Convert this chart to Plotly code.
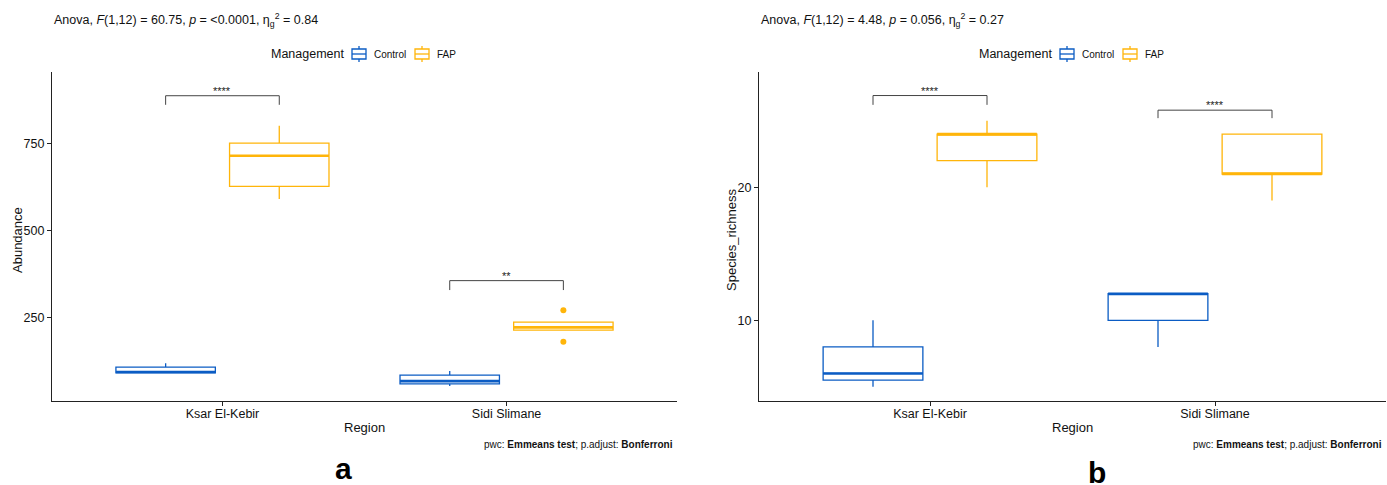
import plotly.graph_objects as go

W, H = 1387, 485

# ---------------- data ----------------
regions = ["Ksar El-Kebir", "Sidi Slimane"]
groups = ["Control", "FAP"]

# Abundance (panel a) box statistics per region
ab_control_q1 = [92, 60]
ab_control_med = [94, 68]
ab_control_q3 = [108, 85]
ab_control_lo = [91, 54]
ab_control_hi = [119, 97]

ab_fap_q1 = [626, 214]
ab_fap_med = [714, 222]
ab_fap_q3 = [750, 237]
ab_fap_lo = [590, 214]
ab_fap_hi = [800, 237]

ab_fap_outliers_sidi = [271, 181]

# Species richness (panel b)
sr_control_q1 = [5.5, 10]
sr_control_med = [6, 12]
sr_control_q3 = [8, 12]
sr_control_lo = [5, 8]
sr_control_hi = [10, 12]

sr_fap_q1 = [22, 21]
sr_fap_med = [24, 21]
sr_fap_q3 = [24, 24]
sr_fap_lo = [20, 19]
sr_fap_hi = [25, 24]

# pairwise comparison brackets (y of bar, y of tips, label)
ab_bracket_y = [886, 356]
ab_bracket_tip = [860, 329]
ab_bracket_lab = ["****", "**"]

sr_bracket_y = [26.9, 25.8]
sr_bracket_tip = [26.2, 25.2]
sr_bracket_lab = ["****", "****"]

titles = [
    "Anova, <i>F</i>(1,12) = 60.75, <i>p</i> = &lt;0.0001, η<sub>g</sub><sup>2</sup> = 0.84",
    "Anova, <i>F</i>(1,12) = 4.48, <i>p</i> = 0.056, η<sub>g</sub><sup>2</sup> = 0.27",
]
caption = "pwc: <b>Emmeans test</b>; p.adjust: <b>Bonferroni</b>"
ylabels = ["Abundance", "Species_richness"]
legend_title = "Management"
panel_letters = ["a", "b"]

# ---------------- style ----------------
COL = {"Control": "#0B5CC4", "FAP": "#FFB50A"}
FONT = "Liberation Sans, Arial, sans-serif"
DODGE = 0.2
BOXW = 0.35


def px_x(px):
    return px / W


def px_y(py):
    return 1 - py / H


fig = go.Figure()

panels = [
    dict(xa="x", ya="y",
         stats={"Control": (ab_control_q1, ab_control_med, ab_control_q3, ab_control_lo, ab_control_hi),
                "FAP": (ab_fap_q1, ab_fap_med, ab_fap_q3, ab_fap_lo, ab_fap_hi)},
         by=ab_bracket_y, bt=ab_bracket_tip, bl=ab_bracket_lab),
    dict(xa="x2", ya="y2",
         stats={"Control": (sr_control_q1, sr_control_med, sr_control_q3, sr_control_lo, sr_control_hi),
                "FAP": (sr_fap_q1, sr_fap_med, sr_fap_q3, sr_fap_lo, sr_fap_hi)},
         by=sr_bracket_y, bt=sr_bracket_tip, bl=sr_bracket_lab),
]

cat_pos = [i + 1 for i in range(len(regions))]

annotations = []
shapes = []
for p in panels:
    for gi, g in enumerate(groups):
        off = -DODGE if g == "Control" else DODGE
        xs = [c + off for c in cat_pos]
        q1, med, q3, lo, hi = p["stats"][g]
        fig.add_trace(go.Box(
            x=xs, q1=q1, median=med, q3=q3, lowerfence=lo, upperfence=hi,
            width=BOXW, whiskerwidth=0, boxpoints=False,
            line=dict(color=COL[g], width=1.3), fillcolor="rgba(255,255,255,0)",
            name=g, showlegend=False, xaxis=p["xa"], yaxis=p["ya"], hoverinfo="skip",
        ))
        # thicker median line (ggplot fatten)
        mx, my = [], []
        for x, m in zip(xs, med):
            mx += [x - BOXW / 2, x + BOXW / 2, None]
            my += [m, m, None]
        fig.add_trace(go.Scatter(x=mx, y=my, mode="lines", line=dict(color=COL[g], width=2.6),
                                 showlegend=False, xaxis=p["xa"], yaxis=p["ya"], hoverinfo="skip"))
    # brackets
    for c, yb, yt, lab in zip(cat_pos, p["by"], p["bt"], p["bl"]):
        fig.add_trace(go.Scatter(x=[c - DODGE, c - DODGE, c + DODGE, c + DODGE], y=[yt, yb, yb, yt],
                                 mode="lines", line=dict(color="#444444", width=1),
                                 showlegend=False, xaxis=p["xa"], yaxis=p["ya"], hoverinfo="skip"))
        annotations.append(dict(x=c, y=yb, xref=p["xa"], yref=p["ya"], text=lab, showarrow=False,
                                yanchor="bottom", yshift=-3, font=dict(size=11, color="#222", family=FONT)))

# outliers for FAP, Sidi Slimane (abundance)
fig.add_trace(go.Scatter(x=[cat_pos[1] + DODGE] * len(ab_fap_outliers_sidi), y=ab_fap_outliers_sidi,
                         mode="markers", marker=dict(color=COL["FAP"], size=6),
                         showlegend=False, xaxis="x", yaxis="y", hoverinfo="skip"))

# panel geometry in px
pa = dict(x0=52, x1=677, leg=271)
pb = dict(x0=759, x1=1386, leg=979)
ytop, ybot = 72, 401

axis_common = dict(showgrid=False, zeroline=False, showline=True, linecolor="#222", linewidth=1.2,
                   ticks="outside", ticklen=4, tickcolor="#222", tickwidth=1,
                   tickfont=dict(size=12.5, color="#111", family=FONT))

fig.update_layout(
    width=W, height=H, margin=dict(l=0, r=0, t=0, b=0),
    paper_bgcolor="white", plot_bgcolor="white",
    font=dict(family=FONT, color="#111"),
    xaxis=dict(domain=[px_x(pa["x0"]), px_x(pa["x1"])], range=[0.4, 2.6],
               tickvals=cat_pos, ticktext=regions, anchor="y", ticklabelstandoff=-3, **axis_common),
    yaxis=dict(domain=[px_y(ybot), px_y(ytop)], range=[11, 954], tickvals=[250, 500, 750],
               anchor="x", **axis_common),
    xaxis2=dict(domain=[px_x(pb["x0"]), px_x(pb["x1"])], range=[0.4, 2.6],
                tickvals=cat_pos, ticktext=regions, anchor="y2", ticklabelstandoff=-3, **axis_common),
    yaxis2=dict(domain=[px_y(ybot), px_y(ytop)], range=[3.93, 28.67], tickvals=[10, 20],
                anchor="x2", **axis_common),
    showlegend=False,
)

# titles, axis titles, captions, legends
for i, pp in enumerate([pa, pb]):
    annotations.append(dict(x=px_x(pp["x0"]), y=px_y(20), xref="paper", yref="paper", text=titles[i],
                            showarrow=False, xanchor="left", yanchor="middle",
                            font=dict(size=12.5, family=FONT, color="#111")))
    annotations.append(dict(x=px_x((pp["x0"] + pp["x1"]) / 2), y=px_y(427), xref="paper", yref="paper",
                            text="Region", showarrow=False, xanchor="center", yanchor="middle",
                            font=dict(size=13, family=FONT, color="#111")))
    annotations.append(dict(x=px_x(pp["x1"] - 2), y=px_y(444), xref="paper", yref="paper", text=caption,
                            showarrow=False, xanchor="right", yanchor="middle",
                            font=dict(size=10, family=FONT, color="#111")))
    # legend (ggplot-style, drawn manually)
    L = pp["leg"]
    annotations.append(dict(x=px_x(L - 2), y=px_y(54), xref="paper", yref="paper", text=legend_title,
                            showarrow=False, xanchor="left", yanchor="middle",
                            font=dict(size=12.5, family=FONT, color="#111")))
    key_x = [L + 81, L + 144]
    text_x = [L + 103, L + 166]
    for g, kx, tx in zip(groups, key_x, text_x):
        c = COL[g]
        shapes.append(dict(type="rect", xref="paper", yref="paper", x0=px_x(kx), x1=px_x(kx + 14),
                           y0=px_y(59), y1=px_y(49), line=dict(color=c, width=1.3)))
        shapes.append(dict(type="line", xref="paper", yref="paper", x0=px_x(kx), x1=px_x(kx + 14),
                           y0=px_y(54), y1=px_y(54), line=dict(color=c, width=1.3)))
        shapes.append(dict(type="line", xref="paper", yref="paper", x0=px_x(kx + 7), x1=px_x(kx + 7),
                           y0=px_y(46), y1=px_y(49), line=dict(color=c, width=1.3)))
        shapes.append(dict(type="line", xref="paper", yref="paper", x0=px_x(kx + 7), x1=px_x(kx + 7),
                           y0=px_y(59), y1=px_y(62), line=dict(color=c, width=1.3)))
        annotations.append(dict(x=px_x(tx - 2), y=px_y(54), xref="paper", yref="paper", text=g,
                                showarrow=False, xanchor="left", yanchor="middle",
                                font=dict(size=10, family=FONT, color="#111")))

annotations.append(dict(x=px_x(17), y=px_y(240), xref="paper", yref="paper", text=ylabels[0],
                        textangle=-90, showarrow=False, xanchor="center", yanchor="middle",
                        font=dict(size=13, family=FONT, color="#111")))
annotations.append(dict(x=px_x(731), y=px_y(240), xref="paper", yref="paper", text=ylabels[1],
                        textangle=-90, showarrow=False, xanchor="center", yanchor="middle",
                        font=dict(size=13, family=FONT, color="#111")))
annotations.append(dict(x=px_x(343), y=0, xref="paper", yref="paper", text="<b>a</b>",
                        showarrow=False, xanchor="center", yanchor="bottom", yshift=-2,
                        font=dict(size=30, family=FONT, color="#000")))
annotations.append(dict(x=px_x(1097), y=0, xref="paper", yref="paper", text="<b>b</b>",
                        showarrow=False, xanchor="center", yanchor="bottom", yshift=-6,
                        font=dict(size=30, family=FONT, color="#000")))

fig.update_layout(annotations=annotations, shapes=shapes)

fig.write_html("out.html", post_script="document.body.style.margin='0px';",
               config={"displayModeBar": False})
